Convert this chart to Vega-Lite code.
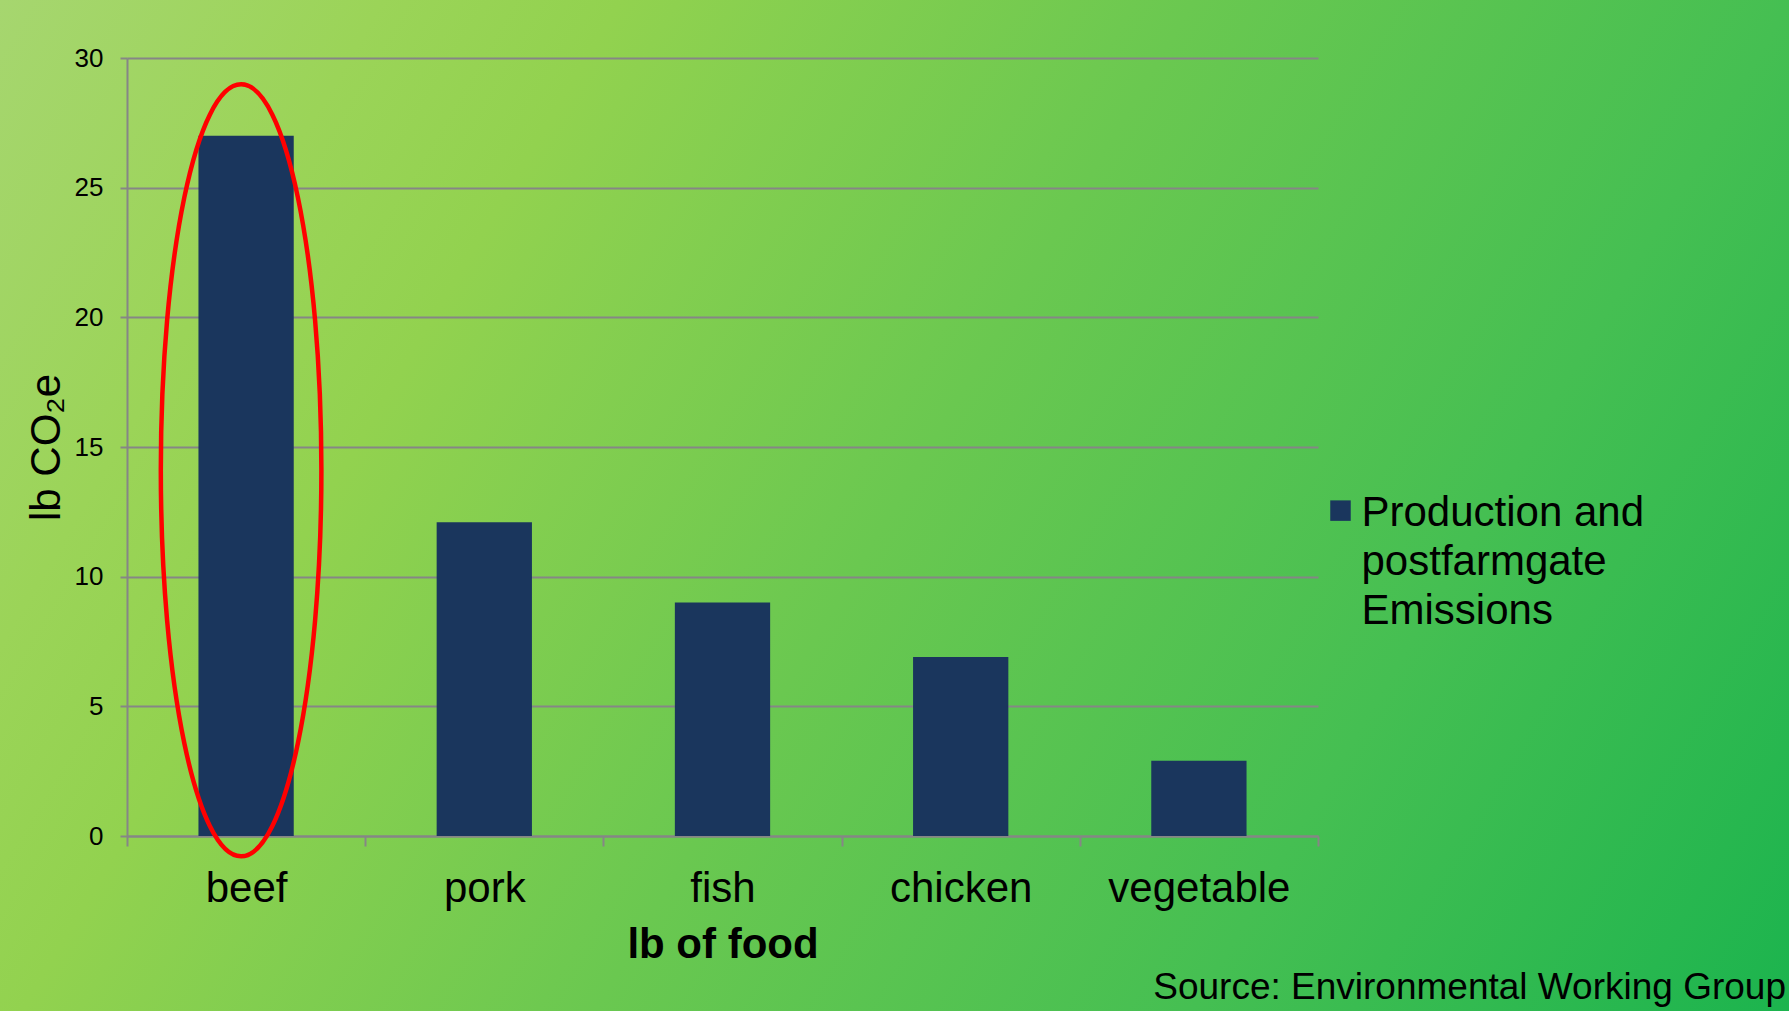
{
  "$schema": "https://vega.github.io/schema/vega-lite/v6.json",
  "width": 1789,
  "height": 1011,
  "autosize": {"type": "none"},
  "padding": 0,
  "background": "#6ac850",
  "config": {
    "font": "Liberation Sans",
    "view": {
      "stroke": null,
      "fill": {
        "gradient": "linear",
        "x1": 0, "y1": 0, "x2": 1.2, "y2": 0.402,
        "stops": [
          {"offset": 0, "color": "#a6d66f"},
          {"offset": 0.16, "color": "#9bd458"},
          {"offset": 0.26, "color": "#92d24f"},
          {"offset": 0.5, "color": "#6ac850"},
          {"offset": 0.75, "color": "#45bf52"},
          {"offset": 1, "color": "#1cb44e"}
        ]
      }
    },
    "style": {"guide-label": {"lineHeight": 49}}
  },
  "title": {
    "text": "Source: Environmental Working Group",
    "orient": "bottom",
    "anchor": "end",
    "frame": "group",
    "offset": -41,
    "dx": -3,
    "fontSize": 37,
    "fontWeight": "normal",
    "color": "#000000"
  },
  "data": {
    "values": [
      {"food": "beef", "emissions": 27, "series": "Production and postfarmgate Emissions"},
      {"food": "pork", "emissions": 12.1, "series": "Production and postfarmgate Emissions"},
      {"food": "fish", "emissions": 9, "series": "Production and postfarmgate Emissions"},
      {"food": "chicken", "emissions": 6.9, "series": "Production and postfarmgate Emissions"},
      {"food": "vegetable", "emissions": 2.9, "series": "Production and postfarmgate Emissions"}
    ]
  },
  "encoding": {
    "x": {
      "field": "food",
      "type": "nominal",
      "sort": ["beef", "pork", "fish", "chicken", "vegetable"],
      "scale": {"range": [127, 1318], "paddingInner": 0, "paddingOuter": 0},
      "axis": {
        "orient": "bottom",
        "offset": -175,
        "title": "lb of food",
        "titleFontSize": 42,
        "titleFontWeight": "bold",
        "titleColor": "#000000",
        "titlePadding": 15,
        "labelFontSize": 42,
        "labelColor": "#000000",
        "labelAngle": 0,
        "labelPadding": 22,
        "labelLimit": 0,
        "tickBand": "extent",
        "tickSize": 10,
        "tickColor": "#868686",
        "tickWidth": 2,
        "domainColor": "#868686",
        "domainWidth": 2,
        "grid": false
      }
    },
    "y": {
      "field": "emissions",
      "type": "quantitative",
      "scale": {"domain": [0, 30], "range": [836, 58], "nice": false, "zero": true},
      "axis": {
        "offset": -127,
        "title": "lb CO₂e",
        "titleFontSize": 42,
        "titleFontWeight": "normal",
        "titleColor": "#000000",
        "titlePadding": 6,
        "values": [0, 5, 10, 15, 20, 25, 30],
        "labelFontSize": 26,
        "labelColor": "#000000",
        "labelPadding": 17,
        "tickSize": 7,
        "tickColor": "#868686",
        "tickWidth": 2,
        "domainColor": "#868686",
        "domainWidth": 2,
        "grid": true,
        "gridColor": "#868686",
        "gridWidth": 2
      }
    }
  },
  "layer": [
    {
      "mark": {"type": "bar", "width": {"band": 0.4}},
      "encoding": {
        "color": {
          "field": "series",
          "type": "nominal",
          "scale": {"range": ["#1a365d"]},
          "legend": {
            "orient": "none",
            "legendX": 1319.5,
            "legendY": 505,
            "title": null,
            "padding": 0,
            "symbolType": "M-1,-2.5H1V-0.5H-1Z",
            "symbolSize": 420,
            "symbolStrokeWidth": 0,
            "labelFontSize": 42,
            "labelColor": "#000000",
            "labelOffset": 0,
            "labelBaseline": "alphabetic",
            "labelLimit": 0,
            "labelExpr": "['Production and', 'postfarmgate', 'Emissions']"
          }
        }
      }
    },
    {
      "data": {"values": [{"food": "beef", "emissions": 14.1}]},
      "mark": {
        "type": "point",
        "shape": "M0,-1C0.1149,-1 0.208,-0.5523 0.208,0C0.208,0.5523 0.1149,1 0,1C-0.1149,1 -0.208,0.5523 -0.208,0C-0.208,-0.5523 -0.1149,-1 0,-1Z",
        "size": 595984,
        "filled": false,
        "stroke": "#ff0000",
        "strokeWidth": 4.5,
        "opacity": 1,
        "xOffset": -5
      }
    }
  ]
}
